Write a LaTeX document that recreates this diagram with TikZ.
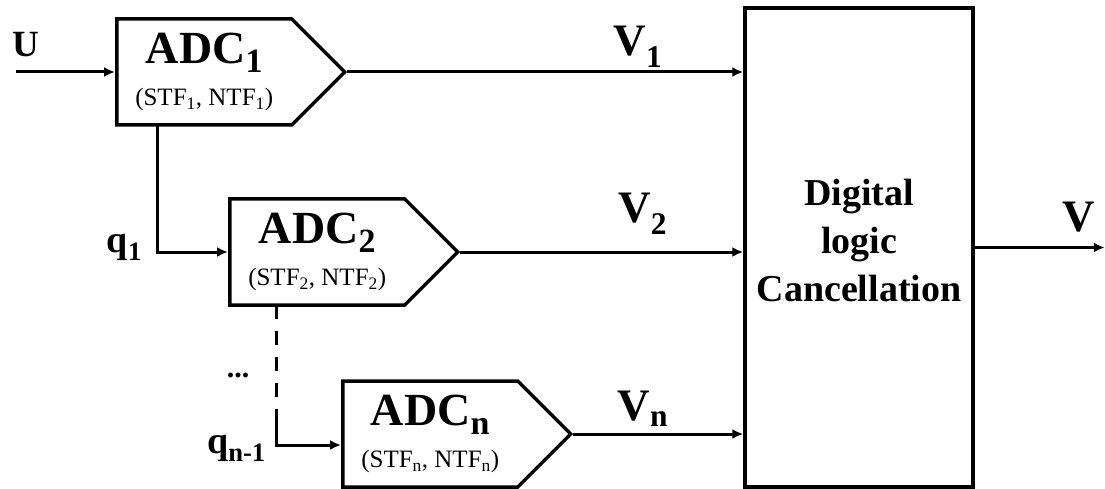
\documentclass[tikz,border=0pt]{standalone}
\usepackage{fontspec}
\setmainfont{Liberation Serif}
\usepackage{tikz}
\usetikzlibrary{arrows.meta,positioning,calc,shapes.symbols}

\newcommand{\adcsub}[1]{\raisebox{-0.2em}{\fontsize{34}{34}\selectfont #1}}

\begin{document}
\begin{tikzpicture}[
  x=1pt,y=-1pt,
  adc/.style={draw,line width=3.5pt,shape=signal,signal to=east,signal from=nowhere,signal pointer angle=90,minimum width=228pt,minimum height=106pt,align=center,inner sep=0pt,font=\fontsize{25}{42}\selectfont},
  dlcbox/.style={draw,line width=3.5pt,minimum width=228pt,minimum height=479pt,align=center,text depth=15pt,font=\fontsize{38}{48}\selectfont\bfseries},
  arrow/.style={-{Latex[length=11pt,width=10pt]},line width=3pt},
  vlab/.style={inner sep=0pt,font=\fontsize{45}{45}\selectfont\bfseries},
  qlab/.style={inner sep=0pt,font=\fontsize{38}{38}\selectfont\bfseries},
  node distance=0pt
]
\useasboundingbox (0,0) rectangle (1105,489);

% converter stages
\node[adc,anchor=west] (adc1) at (115,72) {{\fontsize{46}{42}\selectfont\bfseries ADC\adcsub{1}}\\(STF\textsubscript{1}, NTF\textsubscript{1})};
\node[adc,below right=180pt and 113pt of adc1.west,anchor=west] (adc2) {{\fontsize{46}{42}\selectfont\bfseries ADC\adcsub{2}}\\(STF\textsubscript{2}, NTF\textsubscript{2})};
\node[adc,below right=182pt and 113pt of adc2.west,anchor=west] (adcn) {{\fontsize{46}{42}\selectfont\bfseries ADC\adcsub{n}}\\(STF\textsubscript{n}, NTF\textsubscript{n})};

\node[dlcbox] (dlc) at (859,247.5) {Digital\\logic\\Cancellation};

% input and output
\coordinate[left=99pt of adc1.west] (uin);
\node[vlab,font=\fontsize{37}{37}\selectfont\bfseries,above right=15pt and -4pt of uin,anchor=base west] (labU) {U};
\draw[arrow] (uin) -- (adc1.west);
\coordinate[right=130pt of dlc.east] (vout);
\draw[arrow] (dlc.east) -- (vout) node[vlab,pos=0.8,above=14pt] (labV) {V};

% digital outputs
\draw[arrow] (adc1.east) -- (adc1.east -| dlc.west) node[vlab,pos=0.734,above=3pt] (labV1) {V\textsubscript{1}};
\draw[arrow] (adc2.east) -- (adc2.east -| dlc.west) node[vlab,pos=0.645,above=16pt] (labV2) {V\textsubscript{2}};
\draw[arrow] (adcn.east) -- (adcn.east -| dlc.west) node[vlab,pos=0.41,above=6pt] (labVn) {V\textsubscript{n}};

% quantization errors
\coordinate (tap1) at ($(adc1.west)+(42,53)$);
\coordinate (q1bend) at (tap1 |- adc2.west);
\draw[arrow] (tap1) -- (q1bend) -- (adc2.west);
\node[qlab,left=15pt of q1bend,anchor=base east] (labq1) {q\textsubscript{1}};

\coordinate (tap2) at ($(adc2.west)+(48,53)$);
\coordinate (qbend) at ($(adc2.west)+(48,166)$);
\coordinate (qnin) at ($(adcn.west)+(0,11)$);
\coordinate (qnbend) at (qbend |- qnin);
\draw[line width=3pt,dash pattern=on 14pt off 12pt] (tap2) -- (qbend);
\draw[arrow] (qbend) -- (qnbend) -- (qnin);
\node[qlab,left=10pt of qnbend,anchor=base east,yshift=-8pt] (labqn) {q\textsubscript{n-1}};
\node[vlab,font=\fontsize{30}{30}\selectfont\bfseries,anchor=base] (dots) at (238,377) {...};
\end{tikzpicture}
\end{document}
